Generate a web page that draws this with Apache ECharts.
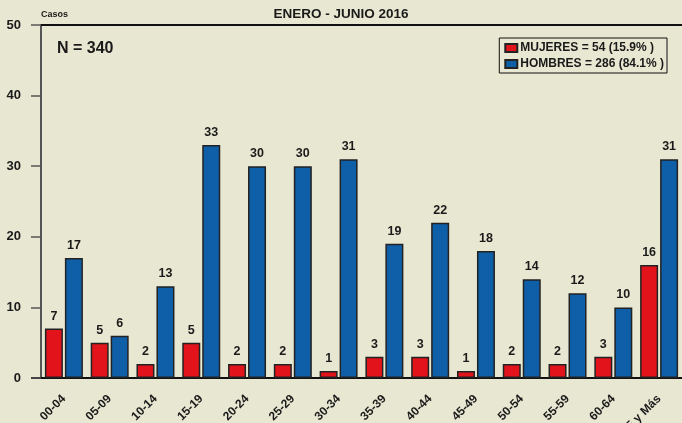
<!DOCTYPE html>
<html><head><meta charset="utf-8">
<script src="https://cdn.jsdelivr.net/npm/echarts@6/dist/echarts.min.js"></script>
<style>html,body{margin:0;padding:0;background:#e8e7d2;}#c{width:682px;height:423px;}</style>
</head><body><div id="c"></div>
<script>
const categories = ['00-04','05-09','10-14','15-19','20-24','25-29','30-34','35-39','40-44','45-49','50-54','55-59','60-64','65 y Más'];
const mujeres = [7,5,2,5,2,2,1,3,3,1,2,2,3,16];
const hombres = [17,6,13,33,30,30,31,19,22,18,14,12,10,31];
const seriesNames = ['MUJERES = 54 (15.9% )','HOMBRES = 286 (84.1% )'];
const yTicks = {min:0, max:50, interval:10};

const FONT = '"Liberation Sans", Arial, sans-serif';
const chart = echarts.init(document.getElementById('c'));
const lbl = {show:true, position:'top', distance:6, color:'#1a1a1a', fontWeight:'bold', fontSize:12.5, fontFamily:FONT};
chart.setOption({
  backgroundColor:'#e8e7d2',
  animation:false,
  title:{text:'ENERO - JUNIO 2016', left:'center', top:2, textStyle:{fontFamily:FONT, fontWeight:'bold', fontSize:13.5, color:'#1a1a1a'}},
  graphic:[
    {type:'text', left:41, top:10, style:{text:'Casos', font:'bold 9px '+FONT, fill:'#1a1a1a'}},
    {type:'text', left:57, top:41, style:{text:'N = 340', font:'bold 16px '+FONT, fill:'#1a1a1a'}},
    {type:'line', shape:{x1:31,y1:378,x2:41,y2:378}, style:{stroke:'#111', lineWidth:2}}
  ],
  legend:{orient:'vertical', right:15, top:38, itemWidth:12, itemHeight:8, itemGap:4, icon:'rect',
    padding:[4,3,3,5], borderColor:'#111', borderWidth:1,
    textStyle:{fontFamily:FONT, fontWeight:'bold', fontSize:12, color:'#1a1a1a', padding:[0,0,0,-2]},
    data:seriesNames},
  grid:{left:41, right:0, top:25, bottom:45, containLabel:false, outerBoundsMode:'none'},
  xAxis:{type:'category', data:categories,
    axisLine:{lineStyle:{color:'#111', width:2}},
    axisTick:{alignWithLabel:true, length:8, lineStyle:{color:'#333', width:1.5}},
    axisLabel:{rotate:45, interval:0, margin:19, fontFamily:FONT, fontWeight:'bold', fontSize:12, color:'#1a1a1a'}},
  yAxis:{type:'value', min:yTicks.min, max:yTicks.max, interval:yTicks.interval,
    axisLine:{show:true, lineStyle:{color:'#555', width:2}},
    axisTick:{show:true, length:10, lineStyle:{color:'#555', width:1.5}},
    splitLine:{show:false},
    axisLabel:{margin:20, fontFamily:FONT, fontWeight:'bold', fontSize:13, color:'#1a1a1a'}},
  series:[
    {name:seriesNames[0], type:'bar', data:mujeres, barWidth:18, barGap:'11%',
     itemStyle:{color:'#e3131c', borderColor:'#222', borderWidth:1.5}, label:lbl,
     markLine:{silent:true, symbol:'none', label:{show:false}, lineStyle:{color:'#111', width:2, type:'solid'}, data:[{yAxis:50}]}},
    {name:seriesNames[1], type:'bar', data:hombres, barWidth:18,
     itemStyle:{color:'#0f5fa8', borderColor:'#222', borderWidth:1.5}, label:lbl}
  ]
});
</script></body></html>
